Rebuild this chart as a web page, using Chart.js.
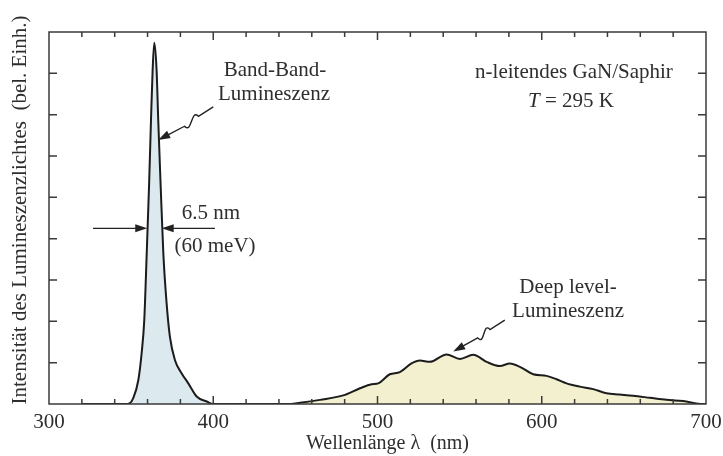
<!DOCTYPE html>
<html><head><meta charset="utf-8">
<script src="https://cdn.jsdelivr.net/npm/chart.js@4/dist/chart.umd.min.js"></script>
<style>html,body{margin:0;padding:0;background:#fff}#wrap{width:723px;height:456px}</style>
</head><body><div id="wrap"><canvas id="c" width="723" height="456"></canvas></div>
<script>
// Band-band luminescence (nm, arb. units)
const bandWavelength = [320, 348, 351.3, 354.4, 356.4, 358, 359.5, 360.9, 362.1, 363.1, 364.1, 365.5, 366.5, 368, 369.6, 371.6, 373.6, 376.7, 380.8, 384.8, 389.9, 396, 400, 420];
const bandIntensity  = [0, 0, 0.14, 0.58, 1.23, 2.03, 3.65, 5.26, 6.87, 8.08, 8.74, 8.08, 6.87, 5.26, 3.65, 2.44, 1.63, 1.06, 0.74, 0.5, 0.18, 0.06, 0, 0];
// Deep level luminescence
const deepWavelength = [420, 445, 452.8, 465, 480.2, 489.3, 496.4, 500.4, 507.5, 513.6, 520.7, 525.8, 531.9, 542, 550.2, 558.3, 566.4, 574.5, 580.6, 586.7, 594.8, 602.9, 609, 615.1, 623.2, 631.3, 639.4, 647.5, 655.6, 665.8, 675.9, 686, 698.2, 700];
const deepIntensity  = [0, 0, 0.03, 0.1, 0.22, 0.38, 0.48, 0.5, 0.72, 0.77, 0.98, 1.05, 1.02, 1.2, 1.09, 1.19, 1.02, 0.92, 0.98, 0.9, 0.72, 0.68, 0.6, 0.5, 0.42, 0.36, 0.26, 0.23, 0.2, 0.15, 0.1, 0.07, 0.0, 0];
const xTickLabels = [300, 400, 500, 600, 700];
const xTitle = 'Wellenlänge λ  (nm)';
const yTitle = 'Intensität des Lumineszenzlichtes  (bel. Einh.)';

const FONT = '"Liberation Serif", "DejaVu Serif", serif';
const TEXT = '#2e2e2e';

// annotations in data units
const labels = [
  {t: 'Band-Band-', x: 437.6, y: 8.08},
  {t: 'Lumineszenz', x: 437.0, y: 7.48},
  {t: 'n-leitendes GaN/Saphir', x: 619.6, y: 8.03},
  {t: '6.5 nm', x: 398.6, y: 4.62},
  {t: '(60 meV)', x: 401.1, y: 3.82},
  {t: 'Deep level-', x: 616, y: 2.81},
  {t: 'Lumineszenz', x: 616, y: 2.25}
];
const tempLabel = {x: 617.8, y: 7.31};
const squiggles = [
  {start: [400.0, 7.19], s1: [391.0, 6.96], s2: [382.5, 6.72], tip: [366.5, 6.39]},
  {start: [577.5, 2.03], s1: [568.5, 1.80], s2: [561.0, 1.60], tip: [546.1, 1.27]}
];
const fwhmArrows = [
  {from: [326.8, 4.25], to: [359.8, 4.25]},
  {from: [401.0, 4.25], to: [368.6, 4.25]}
];

function arrowHead(ctx, fx, fy, tx, ty) {
  const a = Math.atan2(ty - fy, tx - fx), L = 12, W = 4;
  ctx.beginPath();
  ctx.moveTo(tx, ty);
  ctx.lineTo(tx - L*Math.cos(a) + W*Math.sin(a), ty - L*Math.sin(a) - W*Math.cos(a));
  ctx.lineTo(tx - L*Math.cos(a) - W*Math.sin(a), ty - L*Math.sin(a) + W*Math.cos(a));
  ctx.closePath();
  ctx.fill();
}

const framePlugin = {
  id: 'frame',
  afterDraw(chart) {
    const {ctx, chartArea: a, scales: {x, y}} = chart;
    ctx.save();
    ctx.strokeStyle = '#3a3a3a';
    ctx.lineWidth = 1.5;
    ctx.strokeRect(a.left, a.top, a.right - a.left, a.bottom - a.top);
    ctx.beginPath();
    for (let v = 320; v < 700; v += 20) {
      const px = x.getPixelForValue(v);
      const len = (v % 100 === 0) ? 8 : 5;
      ctx.moveTo(px, a.bottom); ctx.lineTo(px, a.bottom - len);
      ctx.moveTo(px, a.top); ctx.lineTo(px, a.top + len);
    }
    for (let v = 1; v <= 8; v++) {
      const py = y.getPixelForValue(v);
      ctx.moveTo(a.left, py); ctx.lineTo(a.left + 8, py);
      ctx.moveTo(a.right, py); ctx.lineTo(a.right - 8, py);
    }
    ctx.stroke();

    // axis titles
    ctx.fillStyle = TEXT;
    ctx.textAlign = 'center';
    ctx.textBaseline = 'middle';
    ctx.font = '20px ' + FONT;
    ctx.fillText(xTitle, (a.left + a.right) / 2 + 10, 444);
    ctx.save();
    ctx.translate(20, (a.top + a.bottom) / 2 - 8);
    ctx.rotate(-Math.PI / 2);
    ctx.font = '21px ' + FONT;
    ctx.fillText(yTitle, 0, 0);
    ctx.restore();

    // texts
    ctx.font = '21px ' + FONT;
    labels.forEach(l => ctx.fillText(l.t, x.getPixelForValue(l.x), y.getPixelForValue(l.y)));
    // T = 295 K
    const tx = x.getPixelForValue(tempLabel.x), ty = y.getPixelForValue(tempLabel.y);
    ctx.textAlign = 'left';
    ctx.font = 'italic 21px ' + FONT;
    const w1 = ctx.measureText('T').width;
    ctx.font = '21px ' + FONT;
    const rest = ' = 295 K';
    const w2 = ctx.measureText(rest).width;
    const sx = tx - (w1 + w2) / 2;
    ctx.font = 'italic 21px ' + FONT;
    ctx.fillText('T', sx, ty);
    ctx.font = '21px ' + FONT;
    ctx.fillText(rest, sx + w1, ty);

    // arrows
    ctx.strokeStyle = '#222';
    ctx.fillStyle = '#222';
    ctx.lineWidth = 1.4;
    squiggles.forEach(s => {
      const p0 = [x.getPixelForValue(s.start[0]), y.getPixelForValue(s.start[1])];
      const p1 = [x.getPixelForValue(s.s1[0]), y.getPixelForValue(s.s1[1])];
      const p2 = [x.getPixelForValue(s.s2[0]), y.getPixelForValue(s.s2[1])];
      const pt = [x.getPixelForValue(s.tip[0]), y.getPixelForValue(s.tip[1])];
      const dx = p2[0] - p1[0], dy = p2[1] - p1[1];
      const len = Math.hypot(dx, dy);
      const nx = -dy / len, ny = dx / len, A = 11;
      ctx.beginPath();
      ctx.moveTo(p0[0], p0[1]);
      ctx.lineTo(p1[0], p1[1]);
      ctx.bezierCurveTo(p1[0] + dx * 0.1 + nx * A, p1[1] + dy * 0.1 + ny * A,
                        p1[0] + dx * 0.9 - nx * A, p1[1] + dy * 0.9 - ny * A,
                        p2[0], p2[1]);
      const ex = pt[0] + (p2[0] - pt[0]) * 0.3, ey = pt[1] + (p2[1] - pt[1]) * 0.3;
      ctx.lineTo(ex, ey);
      ctx.stroke();
      arrowHead(ctx, p2[0], p2[1], pt[0], pt[1]);
    });
    fwhmArrows.forEach(f => {
      const fx = x.getPixelForValue(f.from[0]), fy = y.getPixelForValue(f.from[1]);
      const px = x.getPixelForValue(f.to[0]), py = y.getPixelForValue(f.to[1]);
      ctx.beginPath();
      ctx.moveTo(fx, fy);
      ctx.lineTo(px - Math.sign(px - fx) * 6, py);
      ctx.stroke();
      arrowHead(ctx, fx, fy, px, py);
    });
    ctx.restore();
  }
};

new Chart(document.getElementById('c'), {
  type: 'line',
  data: {
    datasets: [
      {
        data: bandWavelength.map((w, i) => ({x: w, y: bandIntensity[i]})),
        borderColor: '#1c1c1c', borderWidth: 2, pointRadius: 0,
        backgroundColor: '#dce9ef', fill: 'origin', cubicInterpolationMode: 'monotone'
      },
      {
        data: deepWavelength.map((w, i) => ({x: w, y: deepIntensity[i]})),
        borderColor: '#1c1c1c', borderWidth: 2, pointRadius: 0,
        backgroundColor: '#f3f0d0', fill: 'origin', cubicInterpolationMode: 'monotone'
      }
    ]
  },
  options: {
    responsive: false,
    animation: false,
    layout: {padding: {top: 32, right: 17, left: 0, bottom: 0}},
    plugins: {legend: {display: false}, tooltip: {enabled: false}},
    scales: {
      x: {
        type: 'linear', min: 300, max: 700,
        grid: {display: false, drawTicks: false}, border: {display: false},
        afterBuildTicks: s => { s.ticks = xTickLabels.map(v => ({value: v})); },
        afterFit: s => { s.height = 52; s.paddingLeft = 0; s.paddingRight = 0; },
        ticks: {color: TEXT, font: {family: FONT, size: 21}, padding: 6, maxRotation: 0, autoSkip: false},
        title: {display: false, text: xTitle}
      },
      y: {
        min: 0, max: 9,
        grid: {display: false, drawTicks: false}, border: {display: false},
        ticks: {display: false},
        afterFit: s => { s.width = 49; s.paddingTop = 0; s.paddingBottom = 0; },
        title: {display: false, text: yTitle}
      }
    }
  },
  plugins: [framePlugin]
});
</script>
</body></html>
